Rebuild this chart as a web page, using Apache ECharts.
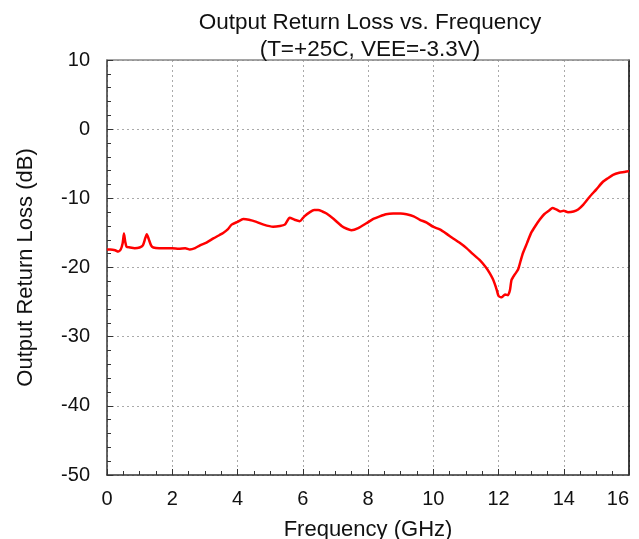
<!DOCTYPE html>
<html>
<head>
<meta charset="utf-8">
<script src="https://cdn.jsdelivr.net/npm/echarts@6/dist/echarts.min.js"></script>
<style>
  html, body { margin: 0; padding: 0; background: #fff; }
  #chart { width: 639px; height: 539px; }
</style>
</head>
<body>
<div id="chart"></div>
<script>
// frequency (GHz) and return loss (dB)
const freqGHz = [0, 0.1, 0.25, 0.34, 0.42, 0.48, 0.52, 0.56, 0.6, 0.7, 0.85, 1.0, 1.1, 1.17, 1.22, 1.28, 1.35, 1.42, 1.6, 1.8, 2.0, 2.2, 2.4, 2.54, 2.7, 2.85, 3.05, 3.26, 3.45, 3.56, 3.7, 3.82, 4.0, 4.18, 4.35, 4.58, 4.8, 5.09, 5.3, 5.45, 5.6, 5.75, 5.91, 6.05, 6.22, 6.35, 6.47, 6.6, 6.73, 6.95, 7.19, 7.35, 7.49, 7.7, 7.95, 8.15, 8.36, 8.55, 8.77, 9.0, 9.18, 9.4, 9.59, 9.8, 9.99, 10.2, 10.4, 10.61, 10.8, 11.02, 11.2, 11.42, 11.6, 11.73, 11.82, 11.88, 11.95, 12.0, 12.1, 12.2, 12.29, 12.35, 12.4, 12.5, 12.6, 12.68, 12.75, 12.88, 13.0, 13.13, 13.26, 13.4, 13.57, 13.65, 13.77, 13.9, 14.0, 14.13, 14.3, 14.44, 14.6, 14.79, 15.0, 15.2, 15.35, 15.51, 15.7, 15.85, 15.97, 16.0];
const lossDB = [-17.4, -17.4, -17.5, -17.7, -17.4, -16.5, -15.1, -16.3, -17.0, -17.1, -17.2, -17.1, -16.8, -15.8, -15.2, -15.9, -16.8, -17.1, -17.2, -17.2, -17.2, -17.3, -17.2, -17.4, -17.2, -16.8, -16.4, -15.8, -15.3, -15.0, -14.5, -13.8, -13.4, -13.0, -13.1, -13.4, -13.8, -14.1, -14.0, -13.8, -12.8, -13.1, -13.3, -12.6, -12.0, -11.7, -11.7, -11.9, -12.2, -13.0, -14.0, -14.4, -14.6, -14.3, -13.6, -13.0, -12.6, -12.3, -12.2, -12.2, -12.3, -12.6, -13.1, -13.5, -14.1, -14.5, -15.1, -15.8, -16.4, -17.2, -18.0, -18.9, -19.9, -20.8, -21.6, -22.3, -23.3, -24.1, -24.3, -23.9, -24.0, -23.3, -21.8, -21.0, -20.3, -19.0, -17.9, -16.4, -15.0, -14.0, -13.1, -12.3, -11.7, -11.4, -11.6, -11.9, -11.8, -12.0, -11.9, -11.6, -10.9, -9.8, -8.7, -7.6, -7.1, -6.6, -6.3, -6.2, -6.1, -6.1];
const xTicks = [0, 2, 4, 6, 8, 10, 12, 14, 16];
const yTicks = [10, 0, -10, -20, -30, -40, -50];

const points = freqGHz.map((f, i) => [f, lossDB[i]]);
const font = 'Liberation Sans, Arial, sans-serif';

const chart = echarts.init(document.getElementById('chart'), null, { renderer: 'canvas' });
chart.setOption({
  animation: false,
  backgroundColor: '#fff',
  title: {
    text: 'Output Return Loss vs. Frequency\n(T=+25C, VEE=-3.3V)',
    left: 365,
    top: 4,
    textAlign: 'center',
    textStyle: { fontFamily: font, fontSize: 22.5, fontWeight: 'normal', color: '#111', lineHeight: 27 }
  },
  grid: { left: 107, right: 10, top: 60, bottom: 64, show: false, outerBoundsMode: 'none', containLabel: false },
  xAxis: [{
    type: 'value',
    min: xTicks[0],
    max: xTicks[xTicks.length - 1],
    interval: 2,
    name: 'Frequency (GHz)',
    nameLocation: 'middle',
    nameGap: 44,
    nameTextStyle: { fontFamily: font, fontSize: 22, color: '#111' },
    axisLine: { show: true, onZero: false, lineStyle: { color: '#333', width: 1.5 } },
    axisTick: { show: true, inside: true, length: 6, lineStyle: { color: '#333' } },
    minorTick: { show: true, splitNumber: 4, length: 4, lineStyle: { color: '#333' } },
    axisLabel: { fontFamily: font, fontSize: 20, color: '#111', margin: 14, alignMaxLabel: 'right' },
    splitLine: { show: true, lineStyle: { color: '#aaa', type: [2, 3] } }
  }, {
    type: 'value',
    position: 'top',
    min: xTicks[0],
    max: xTicks[xTicks.length - 1],
    interval: 2,
    axisLine: { show: true, onZero: false, lineStyle: { color: '#888', width: 1.5 } },
    axisTick: { show: false },
    axisLabel: { show: false },
    splitLine: { show: false }
  }],
  yAxis: [{
    type: 'value',
    min: yTicks[yTicks.length - 1],
    max: yTicks[0],
    interval: 10,
    name: 'Output Return Loss (dB)',
    nameLocation: 'middle',
    nameGap: 70,
    nameTextStyle: { fontFamily: font, fontSize: 22, color: '#111' },
    axisLine: { show: true, onZero: false, lineStyle: { color: '#333', width: 1.5 } },
    axisTick: { show: true, inside: true, length: 6, lineStyle: { color: '#333' } },
    minorTick: { show: true, splitNumber: 5, length: 4, lineStyle: { color: '#333' } },
    axisLabel: { fontFamily: font, fontSize: 20, color: '#111', margin: 17 },
    splitLine: { show: true, lineStyle: { color: '#aaa', type: [2, 3] } }
  }, {
    type: 'value',
    position: 'right',
    min: yTicks[yTicks.length - 1],
    max: yTicks[0],
    interval: 10,
    axisLine: { show: true, onZero: false, lineStyle: { color: '#000', width: 1.5 } },
    axisTick: { show: false },
    axisLabel: { show: false },
    splitLine: { show: false }
  }],
  series: [{
    type: 'line',
    data: points,
    showSymbol: false,
    smooth: 0.2,
    lineStyle: { color: '#ff0000', width: 2.5 },
    itemStyle: { color: '#ff0000' }
  }]
});
</script>
</body>
</html>
